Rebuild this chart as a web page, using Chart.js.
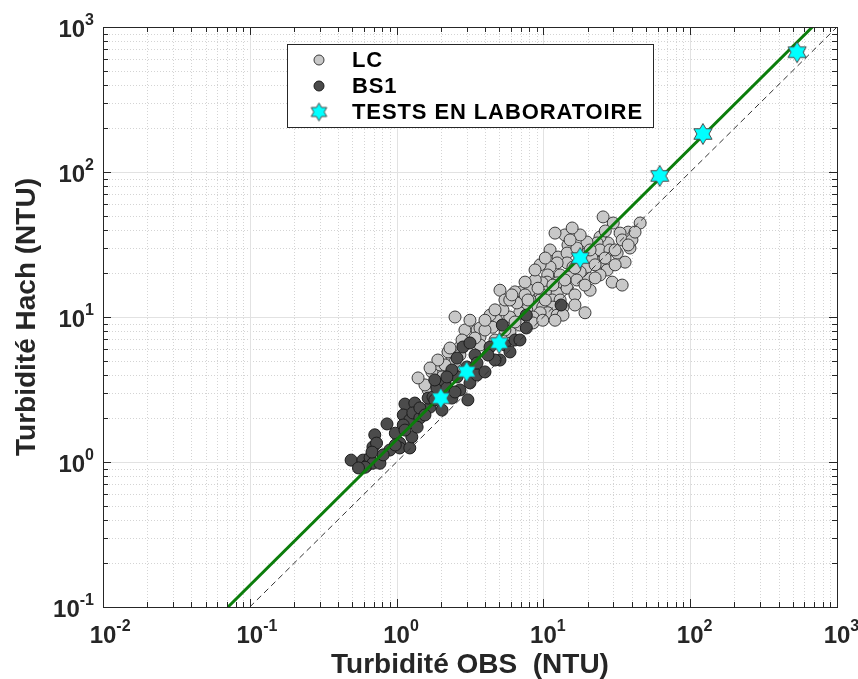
<!DOCTYPE html>
<html>
<head>
<meta charset="utf-8">
<script src="https://cdn.jsdelivr.net/npm/chart.js@4"></script>
<style>html,body{margin:0;padding:0;background:#fff}</style>
</head>
<body>
<canvas id="myChart" width="858" height="679"></canvas>
<script>
// values (NTU)
const lcX = [2.5, 2.38, 2.5, 2.7, 3.01, 3.53, 3.7, 1.64, 1.82, 2.04, 2.5,
  25.5, 29.9, 45.6, 37.8, 33.3, 34.4, 27.6, 24.3, 23.2, 19.8, 19.8, 24.3, 28.4, 31.8, 24.3, 27.2, 24.3, 29.4, 19.8, 19.8, 21.4,
  14.7, 14, 12, 11.1, 12.6, 14.5, 16.9, 14.5, 12.4, 15.9, 17.8, 11.1, 10.7, 13, 15.2, 16.9, 12.4, 10.6, 9.8, 10.6, 12.4, 14.5,
  9.5, 9.5, 11.5, 13, 8.1, 8.8, 7.7, 6.9, 9.9, 11.6, 13.6, 10.7, 12.4, 13.6, 9.5, 8.5, 6.6, 7.1, 6.4, 5.06, 5.9, 5.3, 4.8, 4.1,
  3.7, 19.2, 4.5, 8.5, 7.3, 9.9,
  36, 38.9, 26.4, 1.56, 1.74, 1.98, 2.24, 2.92, 3.16, 4.0, 4.33, 5.47, 4.68, 5.92, 6.9, 34.4,
  8.1, 16.4, 20.8, 22.5, 30.8, 40.1, 17.8, 15.7, 9.5, 8.8, 7.5, 5.9, 12, 3.7, 2.7, 2.14,
  5.47, 6.41, 7.85, 9.19, 11.6, 14.0, 16.4, 19.2, 22.5, 26.3, 30.8, 37.8, 20.8, 15.2, 10.3, 8.77, 7.5, 6.1,
  4.68, 4.0, 3.42, 2.79, 2.31, 1.91, 1.69, 1.4, 10.3, 16.4, 42.1];
const lcY = [10, 5.05, 4.9, 6.21, 6.62, 8.13, 7.28, 3.14, 3.51, 3.86, 3.98,
  49, 44.5, 44.5, 38.5, 37.9, 34, 32.4, 35.6, 32.4, 32.9, 27.6, 29, 29, 27.6, 23.9, 21.1, 19.5, 17.4, 18.9, 22.1, 25.5,
  31.4, 36.8, 37.9, 29, 25.9, 27.6, 29.9, 23.6, 23.6, 22.1, 20.4, 22.1, 19.5, 19.5, 18.9, 18, 17.2, 17.4, 17.2, 14.9, 14.6, 15.8,
  14.6, 13.1, 13.1, 13.1, 13.1, 11.7, 11.2, 10.7, 11.7, 11.7, 11.7, 10.7, 10.3, 10.3, 10.7, 10, 12.5, 14.9, 14.9, 15.3, 10, 11.2, 9.5, 9.1,
  8.4, 10.7, 8.5, 9.1, 9.5, 9.5,
  23.9, 29.9, 39.2, 3.4, 4.18, 4.67, 5.74, 8.13, 9.5, 8.13, 10.3, 13.1, 6.94, 7.9, 8.8, 16.6,
  15.3, 14.2, 15.3, 22.9, 22.9, 34, 36.8, 41.1, 22.9, 18, 14.2, 13.1, 9.5, 6.41, 5.47, 4.67,
  8.13, 9.24, 13.1, 15.8, 16.6, 18, 21.8, 16.6, 18.6, 25.5, 29, 31.4, 29, 34, 25.5, 21.1, 17.4, 14.2,
  11.2, 9.5, 7.16, 6.94, 6.11, 5.05, 4.45, 3.8, 13.1, 12.1, 38.5];

const bs1X = [0.49, 0.59, 0.63, 0.66, 0.69, 0.77, 0.61, 0.69, 0.71, 0.73, 0.68, 0.86, 0.98, 1.05, 1.05, 1.23, 1.27, 0.9,
  1.14, 1.33, 1.11, 1.23, 1.11, 1.29, 1.49, 1.44, 1.38, 1.69, 1.64, 1.77, 2.04, 1.44, 1.88, 2.14, 2.2, 2.38, 2.7, 3.06,
  3.16, 2.58, 3.01, 2.58, 2.83, 3.16, 3.42, 3.53, 3.53, 2.38, 2.2, 1.82,
  4.33, 5.06, 5.47, 6.4, 13.2, 7.65, 5.25, 7.65, 5.92, 6.92, 4.0, 4.68,
  0.55, 0.81, 0.98, 1.14, 1.56, 1.82, 2.5, 4.19];
const bs1Y = [1.03, 1.03, 0.95, 1.07, 0.98, 0.98, 0.92, 1.27, 1.54, 1.35, 1.17, 1.83, 1.58, 1.35, 1.25, 1.25, 1.49, 1.21,
  2.51, 2.55, 2.11, 1.95, 1.8, 2.18, 2.28, 2.01, 1.74, 2.39, 2.76, 2.81, 2.28, 2.36, 3.24, 3.56, 3.24, 2.76, 3.14, 2.68,
  3.51, 3.86, 4.52, 5.21, 6.21, 6.62, 5.47, 3.98, 4.82, 4.31, 3.86, 3.68,
  6.21, 5.05, 6.41, 6.94, 12.1, 10.3, 8.8, 8.4, 5.74, 6.94, 4.18, 5.05,
  0.91, 1.12, 1.31, 1.66, 2.11, 2.68, 3.04, 5.47];

const labX = [2.0, 3.0, 5.0, 17.8, 62, 122, 535];
const labY = [2.75, 4.2, 6.6, 25.5, 94, 183, 670];

// fitted line and 1:1 line end points
const fitX = [0.071, 680];
const fitY = [0.1, 1000];
const oneX = [0.1, 1000];
const oneY = [0.1, 1000];

const xTicks = [0.01, 0.1, 1, 10, 100, 1000];
const xTickExp = ['-2', '-1', '0', '1', '2', '3'];
const yTicks = [0.1, 1, 10, 100, 1000];
const yTickExp = ['-1', '0', '1', '2', '3'];

const xTitle = 'Turbidité OBS  (NTU)';
const yTitle = 'Turbidité Hach (NTU)';
const legendNames = ['LC', 'BS1', 'TESTS EN LABORATOIRE'];

const pts = (xs, ys) => xs.map((x, i) => ({x: x, y: ys[i]}));

function makeHexagram(R) {
  const c = document.createElement('canvas');
  const s = Math.ceil(R * 2 + 3);
  c.width = c.height = s;
  const g = c.getContext('2d');
  const r = R / Math.sqrt(3);
  g.beginPath();
  for (let i = 0; i < 12; i++) {
    const a = -Math.PI / 2 + i * Math.PI / 6;
    const rr = i % 2 === 0 ? R : r;
    const px = s / 2 + rr * Math.cos(a), py = s / 2 + rr * Math.sin(a);
    if (i) g.lineTo(px, py); else g.moveTo(px, py);
  }
  g.closePath();
  g.fillStyle = '#00ffff';
  g.fill();
  g.strokeStyle = '#4a4a4a';
  g.lineWidth = 1;
  g.stroke();
  return c;
}
const star = makeHexagram(10.5);
const starSmall = makeHexagram(9);

const FONT = '"Liberation Sans", Arial, Helvetica, sans-serif';
const AX = '#262626';

function logValues(min, max) {
  const v = [];
  const e0 = Math.round(Math.log10(min)), e1 = Math.round(Math.log10(max));
  for (let e = e0; e < e1; e++) {
    for (let m = 1; m < 10; m++) v.push({v: m * Math.pow(10, e), major: m === 1});
  }
  v.push({v: max, major: true});
  return v;
}

const axesPlugin = {
  id: 'matlabAxes',
  beforeDatasetsDraw(chart) {
    const {ctx, chartArea: a, scales: {x, y}} = chart;
    ctx.save();
    ctx.lineWidth = 1;
    // minor dotted grid first, then major solid
    [false, true].forEach(major => {
      ctx.strokeStyle = major ? '#e2e2e2' : '#d4d4d4';
      ctx.setLineDash(major ? [] : [1, 2]);
      logValues(x.min, x.max).forEach(t => {
        if (t.major !== major) return;
        const px = Math.round(x.getPixelForValue(t.v)) + 0.5;
        ctx.beginPath(); ctx.moveTo(px, a.top); ctx.lineTo(px, a.bottom); ctx.stroke();
      });
      logValues(y.min, y.max).forEach(t => {
        if (t.major !== major) return;
        const py = Math.round(y.getPixelForValue(t.v)) + 0.5;
        ctx.beginPath(); ctx.moveTo(a.left, py); ctx.lineTo(a.right, py); ctx.stroke();
      });
    });
    ctx.restore();
  },
  afterDatasetsDraw(chart) {
    const {ctx, chartArea: a, scales: {x, y}} = chart;
    ctx.save();
    ctx.strokeStyle = AX;
    ctx.lineWidth = 1;
    ctx.setLineDash([]);
    // box
    ctx.strokeRect(a.left + 0.5, a.top + 0.5, a.right - a.left, a.bottom - a.top);
    // inward ticks on all sides
    logValues(x.min, x.max).forEach(t => {
      const px = Math.round(x.getPixelForValue(t.v)) + 0.5;
      const len = t.major ? 8 : 5;
      ctx.beginPath();
      ctx.moveTo(px, a.bottom); ctx.lineTo(px, a.bottom - len);
      ctx.moveTo(px, a.top); ctx.lineTo(px, a.top + len);
      ctx.stroke();
    });
    logValues(y.min, y.max).forEach(t => {
      const py = Math.round(y.getPixelForValue(t.v)) + 0.5;
      const len = t.major ? 8 : 5;
      ctx.beginPath();
      ctx.moveTo(a.left, py); ctx.lineTo(a.left + len, py);
      ctx.moveTo(a.right, py); ctx.lineTo(a.right - len, py);
      ctx.stroke();
    });

    // tick labels 10^n
    const big = 'bold 24px ' + FONT, small = 'bold 16px ' + FONT;
    ctx.fillStyle = AX;
    ctx.textBaseline = 'alphabetic';
    xTicks.forEach((v, i) => {
      const px = x.getPixelForValue(v);
      ctx.font = big;
      const w = ctx.measureText('10').width;
      ctx.textAlign = 'left';
      ctx.fillText('10', px - w / 2, 643);
      ctx.font = small;
      ctx.fillText(xTickExp[i], px + w / 2, 631);
    });
    yTicks.forEach((v, i) => {
      const py = y.getPixelForValue(v);
      ctx.font = small;
      const ws = ctx.measureText(yTickExp[i]).width;
      ctx.font = big;
      const w = ctx.measureText('10').width;
      const x0 = 94 - ws - w;
      ctx.textAlign = 'left';
      ctx.fillText('10', x0, py + 10);
      ctx.font = small;
      ctx.fillText(yTickExp[i], x0 + w, py - 2);
    });

    // axis titles
    ctx.font = 'bold 28px ' + FONT;
    ctx.textAlign = 'center';
    ctx.fillText(xTitle, (a.left + a.right) / 2, 673);
    ctx.save();
    ctx.translate(35, (a.top + a.bottom) / 2);
    ctx.rotate(-Math.PI / 2);
    ctx.fillText(yTitle, 0, 0);
    ctx.restore();

    // legend box
    const lx = 287, ly = 44, lw = 366, lh = 83;
    ctx.fillStyle = '#ffffff';
    ctx.fillRect(lx, ly, lw, lh);
    ctx.strokeStyle = AX;
    ctx.strokeRect(lx + 0.5, ly + 0.5, lw, lh);
    const rows = [60, 86, 112];
    const ds = chart.data.datasets;
    const styles = [ds[4], ds[3]];
    styles.forEach((d, i) => {
      ctx.beginPath();
      ctx.arc(319, rows[i], 5, 0, Math.PI * 2);
      ctx.fillStyle = d.backgroundColor;
      ctx.fill();
      ctx.strokeStyle = d.borderColor;
      ctx.stroke();
    });
    ctx.drawImage(starSmall, 319 - starSmall.width / 2, rows[2] - starSmall.height / 2);
    ctx.fillStyle = '#000';
    ctx.font = 'bold 22px ' + FONT;
    ctx.letterSpacing = '0.9px';
    ctx.textAlign = 'left';
    ctx.textBaseline = 'middle';
    legendNames.forEach((n, i) => ctx.fillText(n, 352, rows[i] + 1));
    ctx.restore();
  }
};

const ctx = document.getElementById('myChart');
new Chart(ctx, {
  type: 'scatter',
  data: {
    datasets: [
      {label: legendNames[2], data: pts(labX, labY), pointStyle: star, pointRadius: 10, order: 0},
      {label: 'fit', data: pts(fitX, fitY), showLine: true, borderColor: '#0b7d0b', borderWidth: 3, pointRadius: 0, order: 1},
      {label: '1:1', data: pts(oneX, oneY), showLine: true, borderColor: '#333333', borderWidth: 1, borderDash: [6, 4], pointRadius: 0, order: 2},
      {label: legendNames[1], data: pts(bs1X, bs1Y), pointRadius: 6, backgroundColor: '#4b4b4b', borderColor: '#1c1c1c', borderWidth: 1, order: 3},
      {label: legendNames[0], data: pts(lcX, lcY), pointRadius: 6, backgroundColor: '#c8c8c8', borderColor: '#3a3a3a', borderWidth: 1, order: 4}
    ]
  },
  options: {
    responsive: false,
    animation: false,
    events: [],
    layout: {padding: {left: 103, top: 27, right: 21, bottom: 72}},
    scales: {
      x: {type: 'logarithmic', min: 0.01, max: 1000, display: false},
      y: {type: 'logarithmic', min: 0.1, max: 1000, display: false}
    },
    plugins: {legend: {display: false}, tooltip: {enabled: false}}
  },
  plugins: [axesPlugin]
});
</script>
</body>
</html>
